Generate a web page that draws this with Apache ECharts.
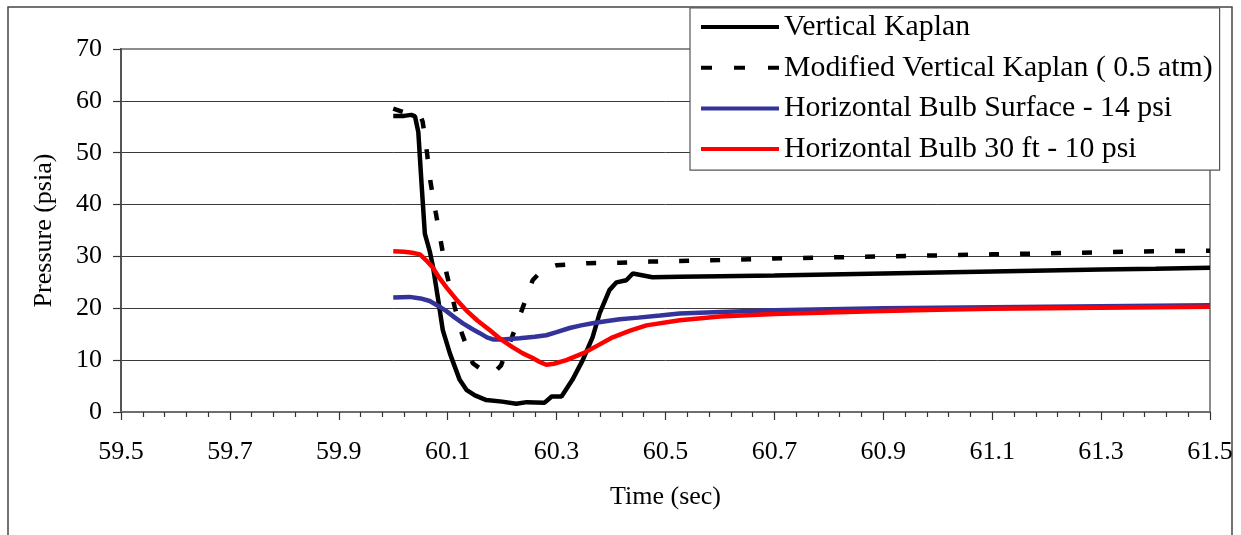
<!DOCTYPE html>
<html>
<head>
<meta charset="utf-8">
<script src="https://cdn.jsdelivr.net/npm/echarts@6/dist/echarts.min.js"></script>
<style>
html,body{margin:0;padding:0;background:#fff;}
#chart{width:1241px;height:535px;}
</style>
</head>
<body>
<div id="chart"></div>
<script>
// ---- data ----
var seriesNames = [
  'Vertical Kaplan',
  'Modified Vertical Kaplan ( 0.5 atm)',
  'Horizontal Bulb Surface - 14 psi',
  'Horizontal Bulb 30 ft - 10 psi'
];

var kaplanTime = [60.000,60.020,60.033,60.040,60.046,60.052,60.058,60.067,60.073,60.082,60.091,60.104,60.122,60.135,60.150,60.171,60.200,60.226,60.245,60.278,60.291,60.309,60.329,60.348,60.366,60.379,60.397,60.410,60.428,60.440,60.476,60.526,60.600,60.700,60.800,60.900,61.000,61.100,61.200,61.300,61.400,61.500];
var kaplanP    = [57.1,57.1,57.3,57.0,54.0,44.0,34.4,31.0,28.0,22.0,15.8,11.3,6.2,4.2,3.2,2.3,2.0,1.6,1.9,1.8,3.0,3.0,6.2,10.0,14.4,19.0,23.5,25.0,25.4,26.7,26.0,26.1,26.2,26.3,26.5,26.7,26.9,27.1,27.3,27.5,27.6,27.8];

var modTime = [60.000,60.020,60.040,60.050,60.054,60.062,60.068,60.078,60.088,60.098,60.113,60.126,60.146,60.165,60.185,60.198,60.218,60.236,60.256,60.275,60.300,60.357,60.416,60.471,60.526,60.600,60.700,60.800,60.900,61.000,61.100,61.200,61.300,61.400,61.500];
var modP    = [58.5,57.8,57.5,57.0,56.0,50.0,44.6,38.5,32.5,26.7,20.2,15.2,9.4,8.0,7.6,9.0,14.4,19.6,25.4,27.5,28.3,28.7,28.8,29.0,29.1,29.3,29.6,29.8,30.0,30.2,30.4,30.6,30.8,31.0,31.1];

var surfTime = [60.000,60.030,60.050,60.067,60.082,60.097,60.112,60.128,60.145,60.159,60.172,60.183,60.200,60.232,60.260,60.281,60.300,60.324,60.345,60.366,60.390,60.416,60.450,60.490,60.526,60.600,60.700,60.800,60.900,61.000,61.100,61.200,61.300,61.400,61.500];
var surfP    = [22.1,22.2,21.9,21.4,20.5,19.5,18.3,17.1,16.0,15.2,14.4,14.0,14.0,14.2,14.5,14.8,15.4,16.2,16.7,17.1,17.5,17.9,18.2,18.6,19.0,19.3,19.6,19.8,20.0,20.1,20.2,20.3,20.4,20.5,20.6];

var deepTime = [60.000,60.020,60.035,60.049,60.060,60.073,60.085,60.098,60.115,60.134,60.155,60.177,60.198,60.219,60.238,60.256,60.270,60.281,60.295,60.318,60.348,60.375,60.403,60.435,60.465,60.526,60.600,60.700,60.800,60.900,61.000,61.100,61.200,61.300,61.400,61.500];
var deepP    = [31.0,30.9,30.7,30.4,29.3,27.8,25.8,24.0,21.8,19.6,17.6,15.8,14.0,12.5,11.3,10.4,9.6,9.1,9.3,10.0,11.3,12.8,14.4,15.7,16.7,17.7,18.4,18.9,19.2,19.5,19.7,19.9,20.0,20.1,20.2,20.3];

var xMin = 59.5, xMax = 61.5, xStep = 0.2;
var yMin = 0, yMax = 70, yStep = 10;

function pairs(t, v) { return t.map(function (x, i) { return [x, v[i]]; }); }

var FONT = 'Liberation Serif';
var SOLID_ICON = 'path://M0,0H78V4H0Z';
var DASH_ICON = 'path://M0,0H11V4H0Z M33,0H44V4H33Z M67,0H78V4H67Z';

var chart = echarts.init(document.getElementById('chart'), null, {renderer: 'canvas'});

chart.setOption({
  backgroundColor: '#ffffff',
  animation: false,
  graphic: [{
    type: 'rect',
    shape: {x: 8, y: 7, width: 1224, height: 540},
    style: {fill: 'none', stroke: '#444', lineWidth: 1.5},
    silent: true, z: -1
  }],
  grid: {
    left: 121, right: 31, top: 49, bottom: 123,
    show: true, borderColor: '#8c8c8c', borderWidth: 2, backgroundColor: 'transparent'
  },
  legend: {
    orient: 'vertical',
    left: 690, top: 8,
    backgroundColor: '#ffffff',
    borderColor: '#555',
    borderWidth: 1.2,
    padding: [4, 7, 6, 11],
    itemWidth: 78,
    itemHeight: 4,
    itemGap: 10.7,
    textStyle: {fontFamily: FONT, fontSize: 29.8, color: '#000', lineHeight: 30},
    data: [
      {name: seriesNames[0], icon: SOLID_ICON},
      {name: seriesNames[1], icon: DASH_ICON},
      {name: seriesNames[2], icon: SOLID_ICON},
      {name: seriesNames[3], icon: SOLID_ICON}
    ]
  },
  xAxis: {
    type: 'value',
    min: xMin, max: xMax, interval: xStep,
    name: 'Time (sec)',
    nameLocation: 'middle',
    nameGap: 72,
    nameTextStyle: {fontFamily: FONT, fontSize: 26, color: '#000'},
    axisLine: {show: true, onZero: false, lineStyle: {color: '#6e6e6e', width: 2}},
    axisTick: {show: true, inside: false, length: 8, lineStyle: {color: '#333', width: 1.2}},
    minorTick: {show: true, splitNumber: 5, length: 5, lineStyle: {color: '#333', width: 1.2}},
    axisLabel: {
      fontFamily: FONT, fontSize: 26, color: '#000', margin: 27,
      formatter: function (v) { return v.toFixed(1); }
    },
    splitLine: {show: false}
  },
  yAxis: {
    type: 'value',
    min: yMin, max: yMax, interval: yStep,
    name: 'Pressure (psia)',
    nameLocation: 'middle',
    nameGap: 64,
    nameTextStyle: {fontFamily: FONT, fontSize: 26, color: '#000'},
    axisLine: {show: true, lineStyle: {color: '#555', width: 2}},
    axisTick: {show: true, inside: false, length: 8, lineStyle: {color: '#333', width: 1.2}},
    axisLabel: {fontFamily: FONT, fontSize: 26, color: '#000', margin: 19},
    splitLine: {show: true, showMinLine: false, showMaxLine: false, lineStyle: {color: '#3a3a3a', width: 1}}
  },
  series: [
    {
      name: seriesNames[0], type: 'line', data: pairs(kaplanTime, kaplanP),
      showSymbol: false, symbol: 'none', smooth: false, z: 4,
      lineStyle: {color: '#000000', width: 4.5},
      itemStyle: {color: '#000000'}
    },
    {
      name: seriesNames[1], type: 'line', data: pairs(modTime, modP),
      showSymbol: false, symbol: 'none', smooth: false, z: 3,
      lineStyle: {color: '#000000', width: 4.5, type: [10, 21], cap: 'butt'},
      itemStyle: {color: '#000000'}
    },
    {
      name: seriesNames[2], type: 'line', data: pairs(surfTime, surfP),
      showSymbol: false, symbol: 'none', smooth: false, z: 5,
      lineStyle: {color: '#333399', width: 4.5},
      itemStyle: {color: '#333399'}
    },
    {
      name: seriesNames[3], type: 'line', data: pairs(deepTime, deepP),
      showSymbol: false, symbol: 'none', smooth: false, z: 6,
      lineStyle: {color: '#ff0000', width: 4.5},
      itemStyle: {color: '#ff0000'}
    }
  ]
});
</script>
</body>
</html>
